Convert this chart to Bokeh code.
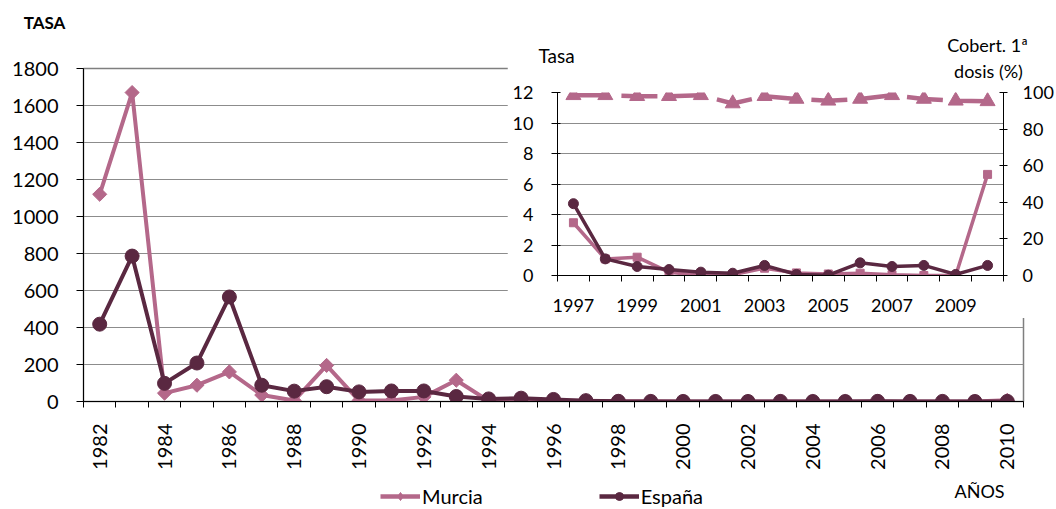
import math
from bokeh.plotting import figure
from bokeh.models import Range1d, LinearAxis, FixedTicker, Label, Legend, LegendItem
from bokeh.embed import file_html
from bokeh.resources import INLINE

# ---------------- data ----------------
years = [1982, 1983, 1984, 1985, 1986, 1987, 1988, 1989, 1990, 1991, 1992, 1993, 1994, 1995,
         1996, 1997, 1998, 1999, 2000, 2001, 2002, 2003, 2004, 2005, 2006, 2007, 2008, 2009, 2010]
murcia = [1120, 1670, 45, 88, 160, 35, 5, 195, 5, 5, 25, 115, 3, 6,
          4, 3.46, 1.09, 1.2, 0.22, 0.0, 0.05, 0.48, 0.17, 0.1, 0.15, 0.05, 0.0, 0.0, 6.63]
espana = [418, 786, 98, 208, 565, 88, 56, 80, 52, 57, 57, 27, 14, 18,
          11, 4.71, 1.09, 0.59, 0.39, 0.22, 0.15, 0.66, 0.07, 0.02, 0.83, 0.59, 0.66, 0.07, 0.66]
x_labels = [1982, 1984, 1986, 1988, 1990, 1992, 1994, 1996, 1998, 2000, 2002, 2004, 2006, 2008, 2010]
y_ticks = [0, 200, 400, 600, 800, 1000, 1200, 1400, 1600, 1800]

inset_years = [1997, 1998, 1999, 2000, 2001, 2002, 2003, 2004, 2005, 2006, 2007, 2008, 2009, 2010]
inset_murcia = murcia[15:]
inset_espana = espana[15:]
coverage = [98.5, 98.5, 98.0, 98.0, 98.5, 94.0, 98.0, 96.5, 95.5, 96.5, 98.5, 96.5, 95.5, 95.2]
inset_x_labels = [1997, 1999, 2001, 2003, 2005, 2007, 2009]
inset_y_ticks = [0, 2, 4, 6, 8, 10, 12]
cov_ticks = [0, 20, 40, 60, 80, 100]

series_names = ["Murcia", "España"]

PINK = "#B4688A"
DARK = "#5A2841"
GRID = "#8C8C8C"
FONT = "Lato"

# ---------------- main chart ----------------
p = figure(width=1040, height=501, x_range=Range1d(1981.5, 2010.5), y_range=Range1d(0, 1800),
           output_backend="svg", toolbar_location=None,
           min_border_left=75, min_border_right=25, min_border_top=60, min_border_bottom=108)
p.styles = {"position": "absolute", "left": "8px", "top": "8px"}
p.background_fill_color = "white"
p.border_fill_color = "white"
p.outline_line_color = "#7F7F7F"
p.outline_line_width = 1.5

p.xgrid.visible = False
p.ygrid.grid_line_color = GRID
p.ygrid.grid_line_width = 1
p.ygrid.ticker = FixedTicker(ticks=y_ticks)

xa = p.xaxis[0]
xa.ticker = FixedTicker(ticks=x_labels, minor_ticks=[y - 0.5 for y in years] + [years[-1] + 0.5])
xa.major_label_orientation = math.pi / 2
xa.major_tick_line_color = None
xa.major_tick_out = 0
xa.major_tick_in = 0
xa.minor_tick_line_color = "black"
xa.minor_tick_out = 6
xa.minor_tick_in = 0
xa.axis_line_color = "black"
xa.major_label_standoff = 16
xa.major_label_text_font = FONT
xa.major_label_text_font_size = "20px"
xa.major_label_text_color = "black"

ya = p.yaxis[0]
ya.ticker = FixedTicker(ticks=y_ticks)
ya.minor_tick_line_color = None
ya.major_tick_out = 7
ya.major_tick_in = 0
ya.major_label_standoff = 18
ya.axis_line_color = "black"
ya.major_label_text_font = FONT
ya.major_label_text_font_size = "20px"
ya.major_label_text_color = "black"

p.line(years, murcia, line_color=PINK, line_width=4)
p.scatter(years, murcia, marker="square", angle=math.pi / 4, size=10,
          fill_color=PINK, line_color=PINK)
p.line(years, espana, line_color=DARK, line_width=4)
p.scatter(years, espana, marker="circle", size=14, fill_color=DARK, line_color=DARK)

# ---------------- inset chart ----------------
q = figure(width=549, height=288, x_range=Range1d(1996.5, 2010.5), y_range=Range1d(0, 12),
           output_backend="svg", toolbar_location=None,
           min_border_left=50, min_border_right=50, min_border_top=62, min_border_bottom=43)
q.styles = {"position": "absolute", "left": "507px", "top": "30px", "z-index": "10"}
q.background_fill_color = "white"
q.border_fill_color = "white"
q.outline_line_color = None
q.extra_y_ranges = {"cov": Range1d(0, 100)}

q.xgrid.visible = False
q.ygrid.grid_line_color = GRID
q.ygrid.ticker = FixedTicker(ticks=inset_y_ticks)

qx = q.xaxis[0]
qx.ticker = FixedTicker(ticks=inset_x_labels,
                        minor_ticks=[y - 0.5 for y in inset_years] + [inset_years[-1] + 0.5])
qx.major_tick_line_color = None
qx.major_tick_out = 0
qx.major_tick_in = 0
qx.minor_tick_line_color = "black"
qx.minor_tick_out = 6
qx.minor_tick_in = 0
qx.axis_line_color = "black"
qx.major_label_standoff = 17
qx.major_label_text_font = FONT
qx.major_label_text_font_size = "18px"
qx.major_label_text_color = "black"

qy = q.yaxis[0]
qy.ticker = FixedTicker(ticks=inset_y_ticks)
qy.minor_tick_line_color = None
qy.major_tick_out = 6
qy.major_tick_in = 3
qy.major_label_standoff = 18
qy.axis_line_color = "black"
qy.major_label_text_font = FONT
qy.major_label_text_font_size = "18px"
qy.major_label_text_color = "black"

qr = LinearAxis(y_range_name="cov", ticker=FixedTicker(ticks=cov_ticks))
qr.minor_tick_line_color = None
qr.major_tick_out = 4
qr.major_tick_in = 4
qr.major_label_standoff = 15
qr.axis_line_color = "black"
qr.major_label_text_font = FONT
qr.major_label_text_font_size = "18px"
qr.major_label_text_color = "black"
q.add_layout(qr, "right")

q.line(inset_years, coverage, y_range_name="cov", line_color=PINK, line_width=4.5,
       line_dash="36 12")
q.scatter(inset_years, coverage, y_range_name="cov", marker="triangle", size=15,
          fill_color=PINK, line_color=PINK)
q.line(inset_years, inset_murcia, line_color=PINK, line_width=3.5)
q.scatter(inset_years, inset_murcia, marker="square", size=8, fill_color=PINK, line_color=PINK)
q.line(inset_years, inset_espana, line_color=DARK, line_width=3.5)
q.scatter(inset_years, inset_espana, marker="circle", size=10, fill_color=DARK, line_color=DARK)

# ---------------- overlay for free texts and legend (page pixel coordinates) ----------------
t = figure(width=1056, height=509, x_range=Range1d(0, 1056), y_range=Range1d(509, 0),
           output_backend="svg", toolbar_location=None,
           min_border=0, min_border_left=0, min_border_right=0,
           min_border_top=0, min_border_bottom=0)
t.styles = {"position": "absolute", "left": "0px", "top": "0px", "z-index": "20",
            "pointer-events": "none"}
t.axis.visible = False
t.grid.visible = False
t.outline_line_color = None
t.background_fill_alpha = 0
t.border_fill_alpha = 0

# legend proxies: same series, but they fall outside this overlay's visible ranges
lm = t.line(years, murcia, line_color=PINK, line_width=4.5)
sm = t.scatter(years, murcia, marker="diamond", size=15, fill_color=PINK, line_color=PINK)
le = t.line(years, espana, line_color=DARK, line_width=4.5)
se = t.scatter(years, espana, marker="circle", size=14, fill_color=DARK, line_color=DARK)

legend = Legend(items=[LegendItem(label=series_names[0], renderers=[lm, sm]),
                       LegendItem(label=series_names[1], renderers=[le, se])],
                orientation="horizontal", location=(380, 1),
                border_line_color=None, background_fill_alpha=0,
                label_text_font=FONT, label_text_font_size="20px", label_text_color="black",
                glyph_width=40, glyph_height=20, spacing=116, padding=0, margin=0,
                label_standoff=2)
t.add_layout(legend, "center")

def txt(x, y, s, size, bold=False):
    t.add_layout(Label(x=x, y=y, text=s, text_font=FONT,
                       text_font_style="bold" if bold else "normal",
                       text_font_size=size, text_align="center", text_baseline="middle",
                       text_color="black"))

txt(44, 22, "TASA", "17px", bold=True)
txt(979, 490, "AÑOS", "18px")
txt(556, 55, "Tasa", "19px")
txt(987, 44, "Cobert. 1ª", "18px")
txt(988, 70, "dosis (%)", "18px")

open("out.html", "w").write(file_html([p, q, t], INLINE))
